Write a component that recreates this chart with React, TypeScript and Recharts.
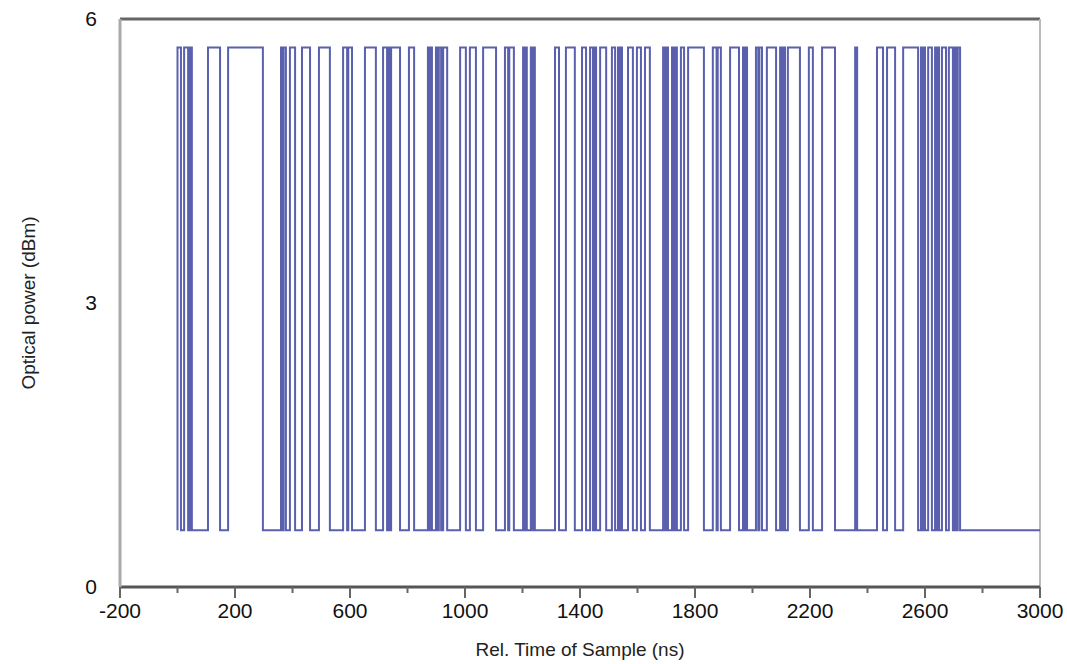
import { LineChart, Line, XAxis, YAxis, ReferenceLine } from 'recharts';

const LOW = 0.6;
const HIGH = 5.7;

// edge times (ns), first edge rises, then they alternate
const edgeTimes = [
  0, 12, 23, 37, 43, 50, 106, 148, 176, 297, 360, 365, 369, 377, 391, 409, 433, 461, 492, 530,
  576, 590, 594, 607, 652, 690, 715, 729, 735, 738, 743, 774, 805, 823, 871, 877, 880, 885, 899,
  905, 909, 917, 924, 938, 983, 1003, 1017, 1038, 1063, 1108, 1139, 1150, 1154, 1170, 1202, 1208,
  1211, 1215, 1229, 1235, 1238, 1243, 1313, 1327, 1351, 1382, 1407, 1421, 1435, 1445, 1449, 1456,
  1470, 1491, 1511, 1522, 1532, 1538, 1541, 1546, 1567, 1584, 1598, 1612, 1626, 1643, 1689, 1695,
  1699, 1706, 1720, 1726, 1730, 1737, 1751, 1762, 1776, 1831, 1862, 1875, 1879, 1890, 1922, 1953,
  1967, 1972, 1975, 1981, 2012, 2020, 2024, 2033, 2050, 2082, 2096, 2102, 2106, 2113, 2123, 2165,
  2196, 2210, 2242, 2287, 2357, 2364, 2433, 2454, 2468, 2496, 2524, 2576, 2586, 2591, 2595, 2600,
  2611, 2624, 2635, 2640, 2644, 2649, 2659, 2673, 2683, 2697, 2704, 2710, 2714, 2722,
];

const majorTicks = [-200, 200, 600, 1000, 1400, 1800, 2200, 2600, 3000];
const minorTicks = [0, 400, 800, 1200, 1600, 2000, 2400, 2800];
const yTicks = [0, 3, 6];

const xTicks = [...majorTicks, ...minorTicks].sort((a, b) => a - b);

const data = [
  { t: 0, v: LOW },
  ...edgeTimes.map((t, i) => ({ t, v: i % 2 === 0 ? HIGH : LOW })),
  { t: 3000, v: LOW },
];

function XTick(props: any) {
  const { x, y, payload } = props;
  const major = majorTicks.includes(payload.value);
  return (
    <g>
      <line x1={x} x2={x} y1={y} y2={y + (major ? 11 : 6)} stroke="#666" strokeWidth={2} />
      {major && (
        <text x={x} y={y + 31} textAnchor="middle" fontSize={21} fill="#111">
          {payload.value}
        </text>
      )}
    </g>
  );
}

export default function App() {
  return (
    <div style={{ position: 'absolute', left: 0, top: 0, background: '#fff' }}>
      <LineChart
        width={1067}
        height={664}
        data={data}
        margin={{ top: 19, right: 27, left: 0, bottom: 0 }}
        style={{ fontFamily: '"Liberation Sans", Arial, sans-serif' }}
      >
        <XAxis
          dataKey="t"
          type="number"
          domain={[-200, 3000]}
          ticks={xTicks}
          interval={0}
          allowDataOverflow
          height={77}
          tickLine={false}
          tickSize={0}
          tickMargin={0}
          tick={<XTick />}
          axisLine={{ stroke: '#555', strokeWidth: 3 }}
          label={{
            value: 'Rel. Time of Sample (ns)',
            position: 'insideBottom',
            offset: 8,
            fontSize: 19,
            fill: '#222',
          }}
        />
        <YAxis
          type="number"
          domain={[0, 6]}
          ticks={yTicks}
          width={120}
          tickLine={false}
          tickSize={0}
          tickMargin={23}
          tick={{ fontSize: 21, fill: '#111' }}
          axisLine={{ stroke: '#aaa', strokeWidth: 3 }}
          label={{
            value: 'Optical power (dBm)',
            angle: -90,
            position: 'insideLeft',
            offset: 28,
            textAnchor: 'middle',
            fontSize: 19,
            fill: '#222',
          }}
        />
        <ReferenceLine y={6} stroke="#666" strokeWidth={3} />
        <ReferenceLine x={3000} stroke="#bbb" strokeWidth={2} />
        <Line
          type="stepAfter"
          dataKey="v"
          stroke="#5a60ad"
          strokeWidth={2}
          dot={false}
          isAnimationActive={false}
        />
      </LineChart>
    </div>
  );
}
